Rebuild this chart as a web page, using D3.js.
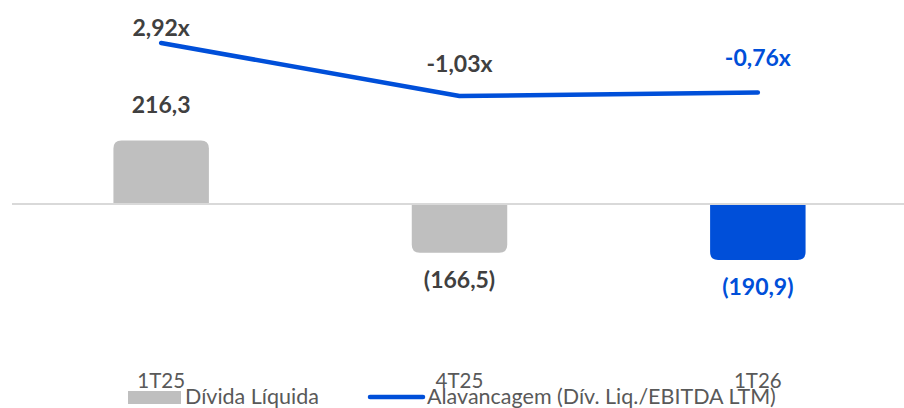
<!DOCTYPE html>
<html>
<head>
<meta charset="utf-8">
<script src="https://cdn.jsdelivr.net/npm/d3@7"></script>
<style>
  body { margin: 0; background: #fff; }
  svg { display: block; font-family: Lato, "Noto Sans", sans-serif; }
</style>
</head>
<body>
<script>
// data
var categories = ['1T25', '4T25', '1T26'];
var dividaLiquida = [216.3, -166.5, -190.9];
var alavancagem = [2.92, -1.03, -0.76];
var barLabels = ['216,3', '(166,5)', '(190,9)'];
var lineLabels = ['2,92x', '-1,03x', '-0,76x'];
var legendNames = ['Dívida Líquida', 'Alavancagem (Dív. Liq./EBITDA LTM)'];

var W = 904, H = 408;
var gray = '#bfbfbf', blue = '#004fd9', darkText = '#404040', axisText = '#595959';
var lineLabelDy = [-7, -24, -26]; // where the labels sit above each point

var svg = d3.select('body').append('svg').attr('width', W).attr('height', H)

var x = d3.scaleBand().domain(categories).range([12, 907]).paddingInner(0.68).paddingOuter(0.34)
var yBar = d3.scaleLinear().domain([-200, 250]).range([262.6, 130.75])
var yLine = d3.scaleLinear().domain([-1.03, 2.92]).range([96, 43])

// rounded only at the outer end of the bar
function barPath(d, i) {
  var x0 = x(categories[i]), w = x.bandwidth(), y0 = yBar(0), y1 = yBar(d), r = 8
  var s = d >= 0 ? 1 : -1
  return 'M' + x0 + ',' + y0 +
    'L' + x0 + ',' + (y1 + s * r) +
    'Q' + x0 + ',' + y1 + ' ' + (x0 + r) + ',' + y1 +
    'L' + (x0 + w - r) + ',' + y1 +
    'Q' + (x0 + w) + ',' + y1 + ' ' + (x0 + w) + ',' + (y1 + s * r) +
    'L' + (x0 + w) + ',' + y0 + 'Z'
}

svg.selectAll('path.bar')
  .data(dividaLiquida)
  .enter().append('path')
    .attr('class', 'bar')
    .attr('d', barPath)
    .attr('fill', (d, i) => i == 2 ? blue : gray)

// zero line
svg.append('line')
  .attr('x1', 12).attr('x2', W)
  .attr('y1', yBar(0)).attr('y2', yBar(0))
  .attr('stroke', '#d9d9d9').attr('stroke-width', 2)

var line = d3.line()
  .x((d, i) => x(categories[i]) + x.bandwidth() / 2)
  .y(d => yLine(d))

svg.append('path')
  .attr('d', line(alavancagem))
  .attr('fill', 'none')
  .attr('stroke', blue)
  .attr('stroke-width', 4.5)
  .attr('stroke-linecap', 'round')
  .attr('stroke-linejoin', 'round')

svg.selectAll('text.barlbl')
  .data(dividaLiquida)
  .enter().append('text')
    .attr('class', 'barlbl')
    .attr('x', (d, i) => x(categories[i]) + x.bandwidth() / 2)
    .attr('y', d => d >= 0 ? yBar(d) - 28 : yBar(d) + 35)
    .attr('text-anchor', 'middle')
    .attr('font-size', 23).attr('font-weight', 'bold')
    .attr('fill', (d, i) => i == 2 ? blue : darkText)
    .text((d, i) => barLabels[i])

svg.selectAll('text.linelbl')
  .data(alavancagem)
  .enter().append('text')
    .attr('class', 'linelbl')
    .attr('x', (d, i) => x(categories[i]) + x.bandwidth() / 2)
    .attr('y', (d, i) => yLine(d) + lineLabelDy[i])
    .attr('text-anchor', 'middle')
    .attr('font-size', 23).attr('font-weight', 'bold')
    .attr('fill', (d, i) => i == 2 ? blue : darkText)
    .text((d, i) => lineLabels[i])

// category labels
var xAxis = svg.append('g')
  .attr('transform', 'translate(0,388)')
  .call(d3.axisBottom(x).tickSize(0).tickPadding(0))
xAxis.select('.domain').remove()
xAxis.selectAll('text')
  .attr('dy', 0)
  .attr('font-family', 'Lato, sans-serif')
  .attr('font-size', 20.5).attr('fill', axisText)

// legend
var leg = svg.append('g')
leg.append('rect').attr('x', 128).attr('y', 391).attr('width', 53).attr('height', 13).attr('fill', gray)
leg.append('text').attr('x', 185).attr('y', 404).attr('font-size', 21.5).attr('fill', axisText).text(legendNames[0])
leg.append('line').attr('x1', 370).attr('x2', 423).attr('y1', 397).attr('y2', 397)
  .attr('stroke', blue).attr('stroke-width', 4.5).attr('stroke-linecap', 'round')
leg.append('text').attr('x', 427).attr('y', 404).attr('font-size', 21.5).attr('fill', axisText).text(legendNames[1])
</script>
</body>
</html>
